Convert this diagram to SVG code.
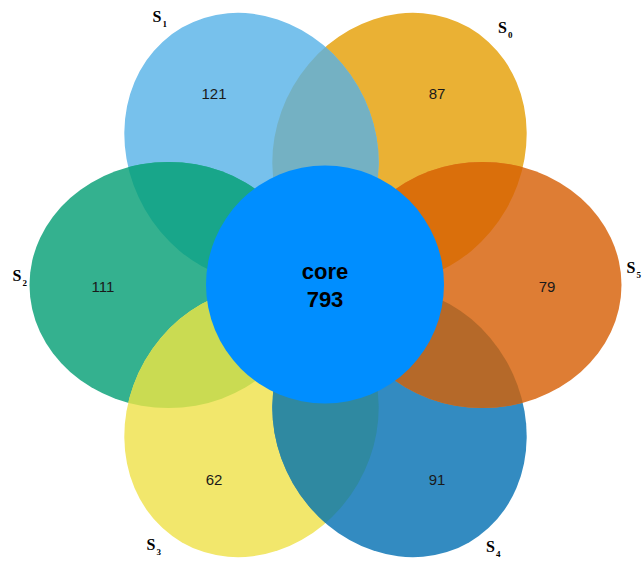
<svg xmlns="http://www.w3.org/2000/svg" width="643" height="568" viewBox="0 0 643 568">
  <style>
    .count { font-family: "Liberation Sans", Arial, sans-serif; font-size: 15px; fill: #1a1a1a; text-anchor: middle; }
    .core-text { font-family: "Liberation Sans", Arial, sans-serif; font-size: 22px; font-weight: bold; fill: #000; text-anchor: middle; }
    .set-name { font-family: "Liberation Serif", "Times New Roman", serif; font-size: 16px; font-weight: bold; fill: #000; }
    .set-name tspan { font-size: 9px; }
  </style>
  <defs>
    <!-- six petals arranged around the core, major axis pointing outward -->
    <ellipse id="e-s0" cx="399.5" cy="148" rx="123" ry="139" transform="rotate(30 399.5 148)"/>
    <ellipse id="e-s1" cx="251.5" cy="148" rx="123" ry="139" transform="rotate(-30 251.5 148)"/>
    <ellipse id="e-s2" cx="168.5" cy="285" rx="139" ry="123"/>
    <ellipse id="e-s3" cx="251.5" cy="422" rx="123" ry="139" transform="rotate(30 251.5 422)"/>
    <ellipse id="e-s4" cx="399.5" cy="422" rx="123" ry="139" transform="rotate(-30 399.5 422)"/>
    <ellipse id="e-s5" cx="482.5" cy="285" rx="139" ry="123"/>
    <clipPath id="clip-s0"><use href="#e-s0"/></clipPath>
    <clipPath id="clip-s1"><use href="#e-s1"/></clipPath>
    <clipPath id="clip-s2"><use href="#e-s2"/></clipPath>
    <clipPath id="clip-s3"><use href="#e-s3"/></clipPath>
    <clipPath id="clip-s4"><use href="#e-s4"/></clipPath>
  </defs>

  <rect width="643" height="568" fill="#fff"/>

  <g id="set-s0">
    <use href="#e-s0" fill="#EAB134"/>
    <text class="count" x="437" y="99">87</text>
    <text class="set-name" x="498" y="33">S<tspan dx="1" dy="5">0</tspan></text>
  </g>
  <g id="set-s1">
    <use href="#e-s1" fill="#77C1EC"/>
    <text class="count" x="214" y="99">121</text>
    <text class="set-name" x="152.5" y="21.5">S<tspan dx="1" dy="5">1</tspan></text>
  </g>
  <g id="set-s2">
    <use href="#e-s2" fill="#34B18F"/>
    <text class="count" x="103" y="292">111</text>
    <text class="set-name" x="12.5" y="281">S<tspan dx="1" dy="5">2</tspan></text>
  </g>
  <g id="set-s3">
    <use href="#e-s3" fill="#F2E76C"/>
    <text class="count" x="214" y="485">62</text>
    <text class="set-name" x="146.5" y="550">S<tspan dx="1" dy="5">3</tspan></text>
  </g>
  <g id="set-s4">
    <use href="#e-s4" fill="#338BC1"/>
    <text class="count" x="437" y="485">91</text>
    <text class="set-name" x="486" y="551.5">S<tspan dx="1" dy="5">4</tspan></text>
  </g>
  <g id="set-s5">
    <use href="#e-s5" fill="#DE7D34"/>
    <text class="count" x="547" y="292">79</text>
    <text class="set-name" x="626.5" y="273">S<tspan dx="1" dy="5">5</tspan></text>
  </g>

  <!-- pairwise overlaps of neighbouring petals -->
  <g id="overlaps">
    <use href="#e-s1" fill="#74B1C3" clip-path="url(#clip-s0)"/>
    <use href="#e-s2" fill="#18A68A" clip-path="url(#clip-s1)"/>
    <use href="#e-s3" fill="#CADB52" clip-path="url(#clip-s2)"/>
    <use href="#e-s4" fill="#2F89A1" clip-path="url(#clip-s3)"/>
    <use href="#e-s5" fill="#B56929" clip-path="url(#clip-s4)"/>
    <use href="#e-s5" fill="#DA6F0B" clip-path="url(#clip-s0)"/>
  </g>

  <g id="core">
    <circle cx="325" cy="284.5" r="119" fill="#008EFF"/>
    <text class="core-text" x="325" y="279">core</text>
    <text class="core-text" x="325" y="307">793</text>
  </g>
</svg>
